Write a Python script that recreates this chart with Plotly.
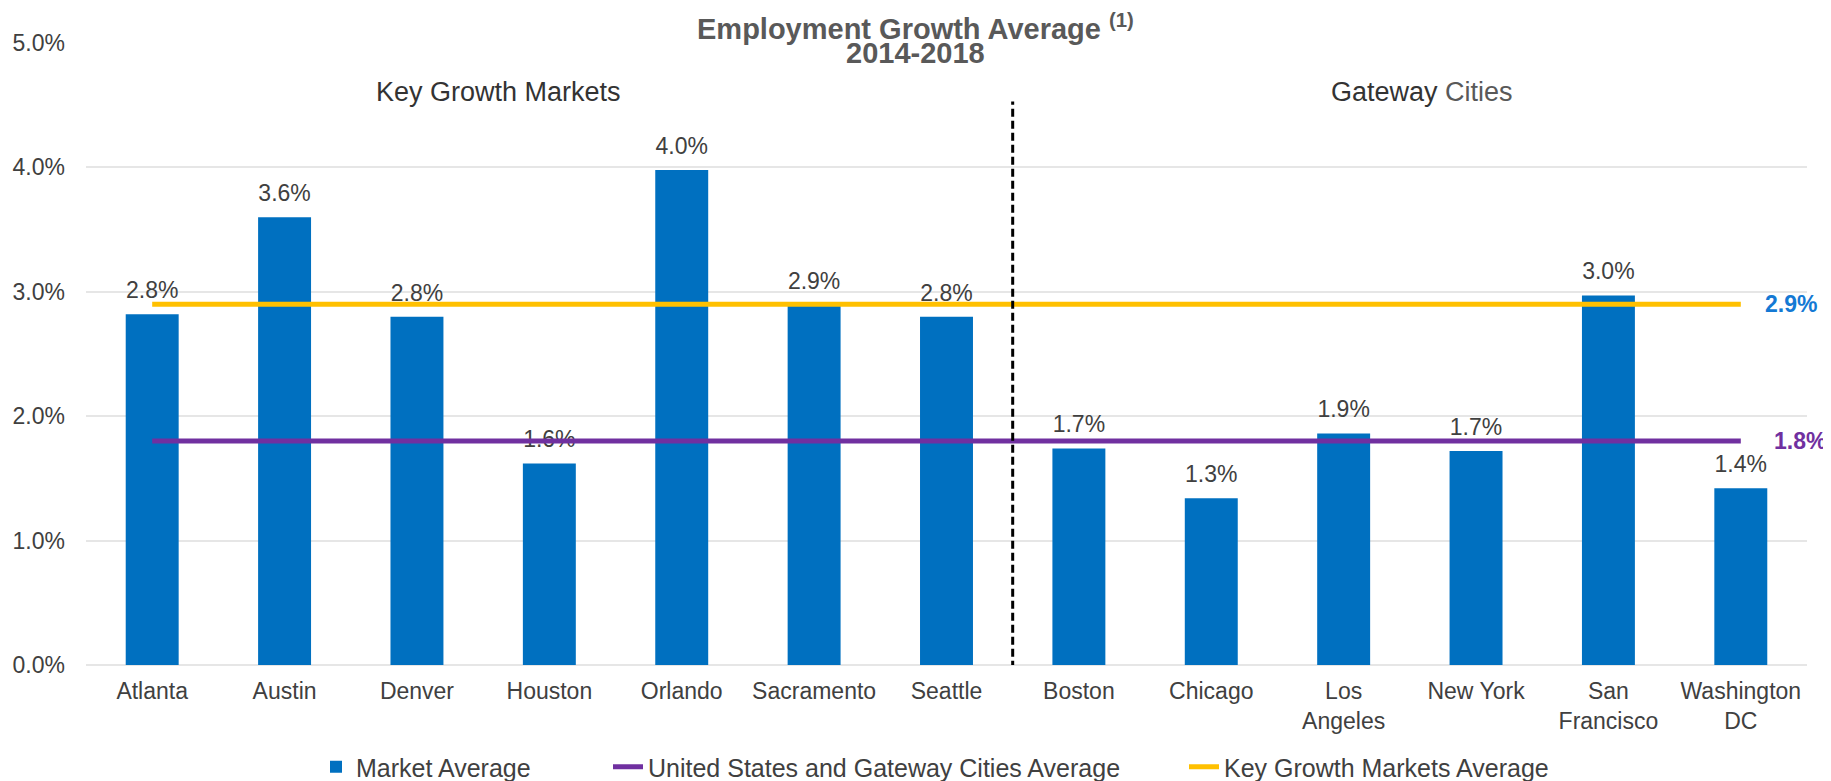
import plotly.graph_objects as go

# ---- data ----
categories = ["Atlanta", "Austin", "Denver", "Houston", "Orlando", "Sacramento", "Seattle",
              "Boston", "Chicago", "Los Angeles", "New York", "San Francisco", "Washington DC"]
tick_labels = ["Atlanta", "Austin", "Denver", "Houston", "Orlando", "Sacramento", "Seattle",
               "Boston", "Chicago", "Los<br>Angeles", "New York", "San<br>Francisco", "Washington<br>DC"]
market_avg = [2.82, 3.60, 2.80, 1.62, 3.98, 2.89, 2.80, 1.74, 1.34, 1.86, 1.72, 2.97, 1.42]
us_gateway_avg = 1.8
key_growth_avg = 2.9
y_ticks = [0, 1, 2, 3, 4, 5]
y_tick_labels = [f"{v:.1f}%" for v in y_ticks]

FONT = "Liberation Sans, Arial, sans-serif"
TXT = "#404040"
BLUE = "#0070C0"
PURPLE = "#7030A0"
YELLOW = "#FFC000"

fig = go.Figure()

fig.add_trace(go.Bar(
    x=categories, y=market_avg, name="Market Average",
    marker=dict(color=BLUE, line=dict(width=0)),
    legend="legend",
))

# value labels above the bars (drawn before the average lines so the lines pass over them)
fig.add_trace(go.Scatter(
    x=categories, y=market_avg, mode="markers+text",
    text=[f"{v:.1f}%" for v in market_avg], textposition="top center",
    marker=dict(size=15, color="rgba(0,0,0,0)"),
    textfont=dict(family=FONT, size=23, color=TXT),
    cliponaxis=False, showlegend=False, hoverinfo="skip",
))

fig.add_trace(go.Scatter(
    x=categories, y=[us_gateway_avg] * len(categories), mode="lines",
    name="United States and Gateway Cities Average",
    line=dict(color=PURPLE, width=5), legend="legend2",
))
fig.add_trace(go.Scatter(
    x=categories, y=[key_growth_avg] * len(categories), mode="lines",
    name="Key Growth Markets Average",
    line=dict(color=YELLOW, width=5), legend="legend3",
))

# the page body has an 8px default margin, so the figure is sized to fit the window
OFF = 8
WIN_W, WIN_H = 1831, 781
W, H = WIN_W - OFF, WIN_H - OFF
ML, MR, MT, MB = 86 - OFF, 24, 43 - OFF, 116
PH = H - MT - MB
PW = W - ML - MR
PLOT_L_WIN, PLOT_B_WIN = ML + OFF, H - MB + OFF


def px(win_x):
    return (win_x - PLOT_L_WIN) / PW


def py(win_y):
    return (PLOT_B_WIN - win_y) / PH


LEG_Y = (WIN_H - 767) / H
leg_common = dict(orientation="h", xref="container", yref="container",
                  xanchor="left", yanchor="middle",
                  font=dict(family=FONT, size=25, color=TXT), bgcolor="rgba(0,0,0,0)")

fig.update_layout(
    width=W, height=H,
    margin=dict(l=ML, r=MR, t=MT, b=MB, autoexpand=False),
    paper_bgcolor="white", plot_bgcolor="white",
    font=dict(family=FONT, size=23, color=TXT),
    bargap=0.6,
    xaxis=dict(
        type="category", tickvals=categories, ticktext=tick_labels,
        range=[-0.5, len(categories) - 0.5],
        showgrid=False, showline=False, ticks="", zeroline=False,
        tickfont=dict(family=FONT, size=23, color=TXT),
        ticklabelstandoff=10, automargin=False,
    ),
    yaxis=dict(
        range=[0, 5], tickvals=y_ticks, ticktext=y_tick_labels,
        showgrid=True, gridcolor="#E6E6E6", gridwidth=2,
        zeroline=True, zerolinecolor="#E6E6E6", zerolinewidth=2,
        showline=False, ticks="",
        tickfont=dict(family=FONT, size=23, color=TXT),
        ticklabelstandoff=20, automargin=False,
    ),
    legend=dict(x=(316 - OFF) / W, y=LEG_Y, **leg_common),
    legend2=dict(x=(608 - OFF) / W, y=LEG_Y, **leg_common),
    legend3=dict(x=(1184 - OFF) / W, y=LEG_Y, **leg_common),
    showlegend=True,
)

# title (two lines placed separately); first line hangs from the top of the figure
title_font = dict(family=FONT, size=29, color="#595959")
fig.add_annotation(text="<b>Employment Growth Average <sup>(1)</sup></b>",
                   xref="paper", yref="paper", x=px(WIN_W / 2), y=py(OFF),
                   showarrow=False, xanchor="center", yanchor="top", borderpad=0,
                   font=title_font)
fig.add_annotation(text="<b>2014-2018</b>",
                   xref="paper", yref="paper", x=px(WIN_W / 2), y=py(53),
                   showarrow=False, xanchor="center", yanchor="middle", font=title_font)

# dashed divider between the two groups
fig.add_shape(type="line", xref="x", yref="y", x0=6.5, x1=6.5, y0=-0.32, y1=4.53,
              line=dict(color="black", width=3, dash="8px,4px"))

fig.add_annotation(text="Key Growth Markets", xref="paper", yref="paper",
                   x=px(498), y=py(92), showarrow=False,
                   xanchor="center", yanchor="middle",
                   font=dict(family=FONT, size=27, color="#333333"))
fig.add_annotation(text="Gateway <span style='color:#595959'>Cities</span>", xref="paper", yref="paper",
                   x=px(1422), y=py(92), showarrow=False,
                   xanchor="center", yanchor="middle",
                   font=dict(family=FONT, size=27, color="#333333"))

# end-of-line value labels
fig.add_annotation(text=f"<b>{key_growth_avg:.1f}%</b>", x=categories[-1], y=key_growth_avg,
                   xref="x", yref="y", showarrow=False, xanchor="left", yanchor="middle",
                   xshift=23, borderpad=0, font=dict(family=FONT, size=23, color="#1479D4"))
fig.add_annotation(text=f"<b>{us_gateway_avg:.1f}%</b>", x=categories[-1], y=us_gateway_avg,
                   xref="x", yref="y", showarrow=False, xanchor="left", yanchor="middle",
                   xshift=32, borderpad=0, font=dict(family=FONT, size=23, color=PURPLE))

fig.write_html("out.html")
